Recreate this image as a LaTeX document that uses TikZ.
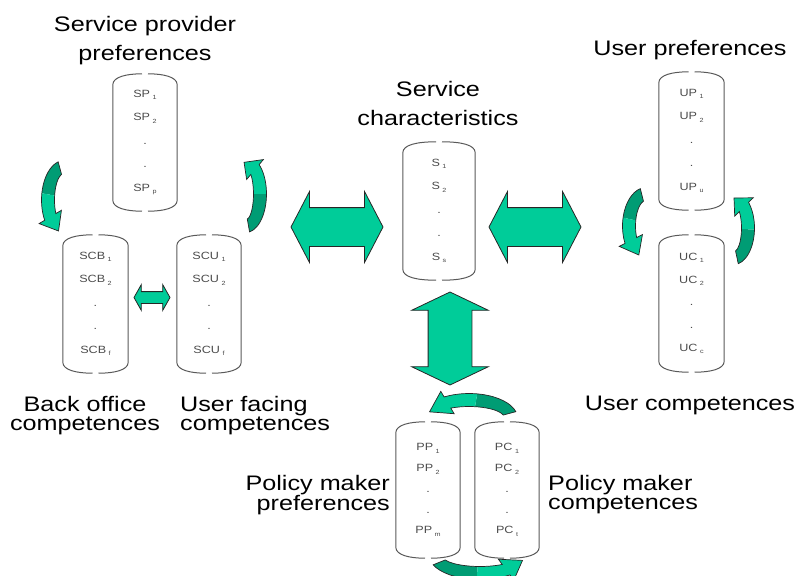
\documentclass[tikz,border=0pt]{standalone}
\usepackage{fontspec}
\setmainfont{Liberation Sans}[FakeStretch=1.2]
\usetikzlibrary{shapes.arrows}

\definecolor{mint}{RGB}{0,204,153}
\definecolor{deepmint}{RGB}{0,156,116}
\definecolor{inkgray}{RGB}{75,75,75}

% 下标
\newcommand\sub[1]{\hspace{2.5pt}\raisebox{-2.5pt}{\fontsize{6}{6}\selectfont #1}}

% 圆柱轮廓 (左右两半)
\newcommand\drumline[1]{%
  \draw[drumedge] ([xshift=-3]#1.north) .. controls ([xshift=14]#1.north west) and ([yshift=-3]#1.north west) .. ([yshift=-11]#1.north west)
    -- ([yshift=11]#1.south west) .. controls ([yshift=3]#1.south west) and ([xshift=14]#1.south west) .. ([xshift=-3]#1.south);
  \draw[drumedge] ([xshift=3]#1.north) .. controls ([xshift=-14]#1.north east) and ([yshift=-3]#1.north east) .. ([yshift=-11]#1.north east)
    -- ([yshift=11]#1.south east) .. controls ([yshift=3]#1.south east) and ([xshift=-14]#1.south east) .. ([xshift=3]#1.south);
}

% 弯箭头: 中心, x半径, y半径, 起角, 箭尖角
\newcommand\bendarrow[5]{%
  \begin{scope}[shift={#1}]
    \pgfmathsetmacro\headat{#5-0.27*(#5-#4)}
    \pgfmathsetmacro\midat{#4+0.45*(#5-#4)}
    \pgfmathsetmacro\rxo{#2+6.5}\pgfmathsetmacro\ryo{#3+6.5}
    \pgfmathsetmacro\rxi{#2-6.5}\pgfmathsetmacro\ryi{#3-6.5}
    \pgfmathsetmacro\rxh{#2+13}\pgfmathsetmacro\ryh{#3+13}
    \pgfmathsetmacro\rxj{#2-13}\pgfmathsetmacro\ryj{#3-13}
    \fill[deepmint] (#4:\rxo\space and \ryo) arc[start angle=#4, end angle=\midat, x radius=\rxo, y radius=\ryo]
      -- (\midat:\rxi\space and \ryi) arc[start angle=\midat, end angle=#4, x radius=\rxi, y radius=\ryi] -- cycle;
    \fill[mint] (\midat:\rxo\space and \ryo) arc[start angle=\midat, end angle=\headat, x radius=\rxo, y radius=\ryo]
      -- (\headat:\rxh\space and \ryh) -- (#5:#2 and #3) -- (\headat:\rxj\space and \ryj)
      -- (\headat:\rxi\space and \ryi) arc[start angle=\headat, end angle=\midat, x radius=\rxi, y radius=\ryi] -- cycle;
    \draw[ribbonedge] (#4:\rxo\space and \ryo) arc[start angle=#4, end angle=\headat, x radius=\rxo, y radius=\ryo]
      -- (\headat:\rxh\space and \ryh) -- (#5:#2 and #3) -- (\headat:\rxj\space and \ryj)
      -- (\headat:\rxi\space and \ryi) arc[start angle=\headat, end angle=#4, x radius=\rxi, y radius=\ryi] -- cycle;
  \end{scope}}

\begin{document}
\begin{tikzpicture}[x=1pt, y=-1pt,
    drum/.style={minimum width=65, minimum height=138, inner sep=0, align=center,
      text=inkgray, font=\fontsize{10.5}{23.5}\selectfont},
    drumedge/.style={draw=black!65, line width=1},
    headtext/.style={inner sep=0, align=center, font=\fontsize{21}{19}\selectfont},
    fat/.style={double arrow, draw=black!85, fill=mint, line width=0.8, inner xsep=0, inner ysep=19,
      double arrow head extend=16, double arrow tip angle=125},
    ribbonedge/.style={draw=black!85, line width=0.7}]
    \useasboundingbox (0,0) rectangle (796,576);

    % 服务提供者
    \node[headtext, font=\fontsize{21}{29}\selectfont] (sptitle) at (145,41) {Service provider\\preferences};
    \node[drum, minimum width=64, minimum height=137] (sp) at (145,142.5) {SP\sub1\\SP\sub2\\.\\.\\SP\sub p};
    \node[drum] (scb) at (95.5,304) {SCB\sub1\\SCB\sub2\\.\\.\\SCB\sub f};
    \node[drum, minimum width=64] (scu) at (209,304) {SCU\sub1\\SCU\sub2\\.\\.\\SCU\sub f};
    \node[headtext] (scbtitle) at (85,416) {Back office\\competences};
    \node[headtext, anchor=west, align=left] (scutitle) at (180,416) {User facing\\competences};

    % 服务特性
    \node[headtext, font=\fontsize{21}{29}\selectfont] (stitle) at (438,103) {Service\\characteristics};
    \node[drum, minimum width=72] (s) at (439,211) {S\sub1\\S\sub2\\.\\.\\S\sub s};

    % 用户
    \node[headtext] (uptitle) at (690,50) {User preferences};
    \node[drum] (up) at (691.5,141) {UP\sub1\\UP\sub2\\.\\.\\UP\sub u};
    \node[drum, minimum height=137, font=\fontsize{10.5}{22.75}\selectfont] (uc) at (691.5,303.5) {UC\sub1\\UC\sub2\\.\\.\\UC\sub c};
    \node[headtext] (uctitle) at (690,405) {User competences};

    % 政策制定者
    \node[drum, minimum width=64, minimum height=136, font=\fontsize{10.5}{20.75}\selectfont] (pp) at (428,490) {PP\sub1\\PP\sub2\\.\\.\\PP\sub m};
    \node[drum, minimum width=64, minimum height=136, font=\fontsize{10.5}{20.75}\selectfont] (pc) at (507,490) {PC\sub1\\PC\sub2\\.\\.\\PC\sub t};
    \node[headtext, anchor=east, align=right] (pptitle) at (390,495) {Policy maker\\preferences};
    \node[headtext, anchor=west, align=left] (pctitle) at (548,495) {Policy maker\\competences};

    \foreach \d in {sp,scb,scu,s,up,uc,pp,pc}
      \drumline{\d};

    % 粗双箭头
    \node[fat, minimum height=92, minimum width=70] (wideL) at (337,227) {};
    \node[fat, minimum height=92, minimum width=70] (wideR) at (535,227) {};
    \node[fat, minimum height=93, minimum width=76, rotate=90, inner ysep=21.5,
      double arrow head extend=16.5, double arrow tip angle=129] (wideV) at (450,338.5) {};
    \node[fat, minimum height=36, minimum width=25, inner ysep=5.5,
      double arrow head extend=7, double arrow tip angle=121] (narrow) at (152,297.5) {};

    % 弯箭头
    \bendarrow{(64,200)}{16}{33}{255}{110}
    \bendarrow{(246,194)}{14}{32}{80}{-98}
    \bendarrow{(646,226)}{17}{32}{256}{115}
    \bendarrow{(734,228)}{14}{30}{78}{-90}
    \bendarrow{(469,418)}{42}{18}{-15}{-160}
    \bendarrow{(480,556)}{44}{17}{158}{15}
\end{tikzpicture}
\end{document}
